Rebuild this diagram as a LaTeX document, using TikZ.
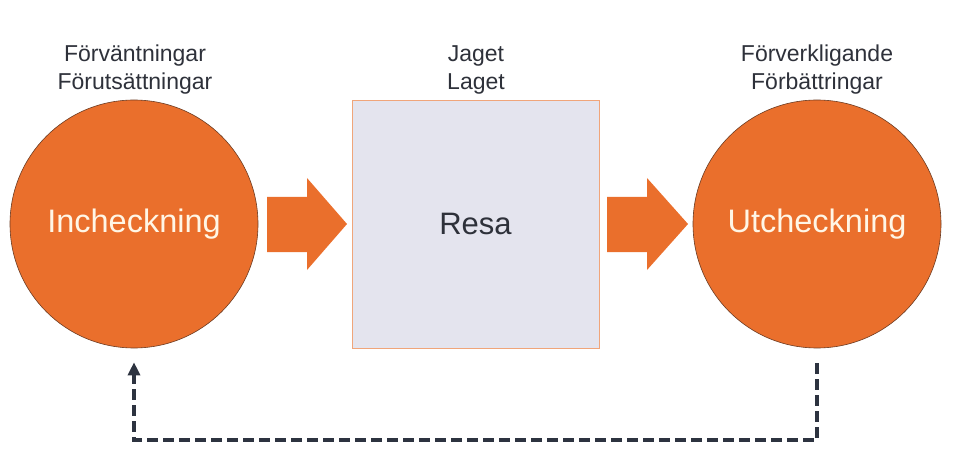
\documentclass[tikz,border=0pt]{standalone}
\usepackage{fontspec}
\setmainfont{Liberation Sans}
\usetikzlibrary{arrows.meta}
\definecolor{org}{HTML}{EA6F2C}
\definecolor{orgline}{HTML}{6B3B22}
\definecolor{boxfill}{HTML}{E4E4EE}
\definecolor{boxline}{HTML}{F0A57A}
\definecolor{txt}{HTML}{2E313A}
\definecolor{ctxt}{HTML}{FFF6E6}
\definecolor{dash}{HTML}{2D3340}
\tikzset{
  stage/.style={circle, fill=org, draw=orgline, line width=0.6pt, minimum size=248pt, inner sep=0pt, text=ctxt, font=\fontsize{32.5}{36}\selectfont},
  journey/.style={rectangle, fill=boxfill, draw=boxline, line width=0.8pt, minimum width=247pt, minimum height=248pt, inner sep=0pt, text=txt, font=\fontsize{31}{36}\selectfont},
  caption/.style={align=center, text=txt, inner sep=0pt, font=\fontsize{23}{28}\selectfont},
  blockarrow/.style={fill=org, draw=none},
  feedback/.style={draw=dash, line width=3.2pt, dash pattern=on 11pt off 5pt, -{Triangle[length=13pt,width=12pt]}}
}
\begin{document}
\begin{tikzpicture}[x=1pt,y=-1pt]
\useasboundingbox (0,0) rectangle (960,462);
\node[stage] (in) at (134,224) {Incheckning};
\node[journey] (resa) at (475.5,224) {Resa};
\node[stage] (ut) at (817,224) {Utcheckning};
\node[caption] (lin) at (135,70) {Förväntningar\\Förutsättningar};
\node[caption] (lmid) at (476,70) {Jaget\\Laget};
\node[caption] (lut) at (817,70) {Förverkligande\\Förbättringar};
% block arrows
\fill[blockarrow] (267,197) -- (307,197) -- (307,178) -- (347,224) -- (307,270) -- (307,252) -- (267,252) -- cycle;
\fill[blockarrow] (607,197) -- (647,197) -- (647,178) -- (688,224) -- (647,270) -- (647,252) -- (607,252) -- cycle;
% feedback loop
\coordinate (fb1) at ([yshift=-15pt]ut.south);
\coordinate (fb2) at (817,440);
\coordinate (fb3) at (134,440);
\coordinate (fb4) at ([yshift=-14pt]in.south);
\draw[feedback] (fb1) -- (fb2) -- (fb3) -- (fb4);
\end{tikzpicture}
\end{document}
